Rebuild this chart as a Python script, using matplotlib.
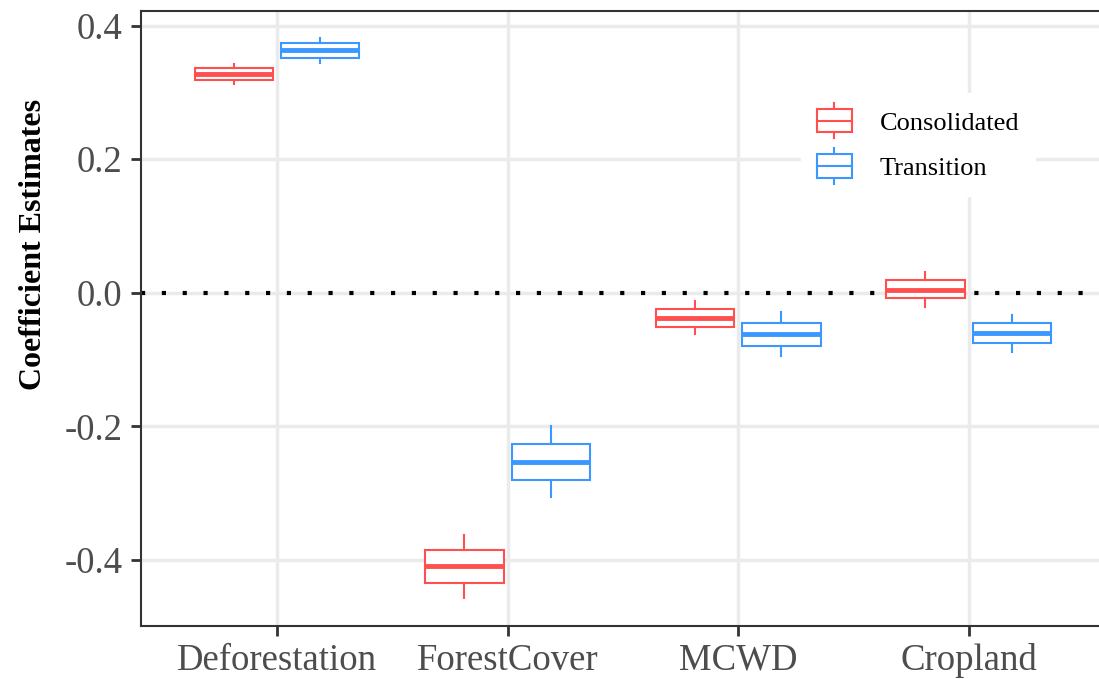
import matplotlib
matplotlib.use("Agg")
import matplotlib.pyplot as plt
from matplotlib.legend_handler import HandlerBase
from matplotlib.lines import Line2D
from matplotlib.patches import Rectangle

plt.rcParams['font.family'] = ['Liberation Serif', 'DejaVu Serif']

categories = ["Deforestation", "ForestCover", "MCWD", "Cropland"]
groups = ["Consolidated", "Transition"]
colors = {"Consolidated": "#FF4F4F", "Transition": "#3A98FF"}

# (whisker low, q1, median, q3, whisker high)
consolidated = [
    (0.313, 0.318, 0.328, 0.337, 0.343),
    (-0.457, -0.434, -0.409, -0.385, -0.362),
    (-0.062, -0.051, -0.038, -0.024, -0.012),
    (-0.022, -0.008, 0.004, 0.019, 0.031),
]
transition = [
    (0.344, 0.352, 0.363, 0.374, 0.381),
    (-0.306, -0.280, -0.253, -0.226, -0.199),
    (-0.095, -0.079, -0.061, -0.045, -0.029),
    (-0.089, -0.075, -0.060, -0.045, -0.033),
]
yticks = [0.4, 0.2, 0.0, -0.2, -0.4]
ytick_labels = ["0.4", "0.2", "0.0", "-0.2", "-0.4"]

W, H = 1099, 679
fig = plt.figure(figsize=(W / 100, H / 100), dpi=100)
ax = fig.add_axes([141 / W, (H - 626) / H, (1107 - 141) / W, (626 - 11) / H])

offset = 0.1875
bw = 0.34
grid_c = "#EBEBEB"
for y in yticks:
    ax.axhline(y, color=grid_c, lw=2.5, zorder=0)
for i in range(len(categories)):
    ax.axvline(i + 1, color=grid_c, lw=2.5, zorder=0)

ax.axhline(0, color="black", lw=3, linestyle=(0, (1, 4)), dash_capstyle="butt", zorder=1)

for data, g, sgn in [(consolidated, "Consolidated", -1), (transition, "Transition", 1)]:
    stats = [dict(whislo=d[0], q1=d[1], med=d[2], q3=d[3], whishi=d[4], fliers=[]) for d in data]
    pos = [i + 1 + sgn * offset for i in range(len(data))]
    c = colors[g]
    ax.bxp(stats, positions=pos, widths=bw, showcaps=False, showfliers=False,
           patch_artist=True,
           boxprops=dict(facecolor="white", edgecolor=c, linewidth=1.5),
           whiskerprops=dict(color=c, linewidth=1.5),
           medianprops=dict(color=c, linewidth=3.5, solid_capstyle="butt"),
           manage_ticks=False, zorder=3)

ax.set_xlim(0.41, 4.6)
ax.set_ylim(-0.499, 0.422)
ax.set_xticks(range(1, len(categories) + 1))
ax.set_xticklabels(categories)
ax.set_yticks(yticks)
ax.set_yticklabels(ytick_labels)
ax.tick_params(axis="both", labelsize=26.5, colors="#333333", length=7.5, width=2,
               labelcolor="#4D4D4D", pad=6)
ax.tick_params(axis="x", pad=5)
for s in ax.spines.values():
    s.set_color("#333333")
    s.set_linewidth(1.5)
ax.set_ylabel("Coefficient Estimates", fontsize=23, fontweight="bold")
ax.yaxis.set_label_coords(-(141 - 48) / (1107 - 141), (626 - 244) / (626 - 11))


class BoxHandler(HandlerBase):
    def create_artists(self, legend, orig_handle, xdescent, ydescent, width, height, fontsize, trans):
        c = orig_handle.get_color()
        cx = -xdescent + width / 2
        bw_ = width
        top = -ydescent + height * 1.0
        bot = -ydescent + height * 0.0
        rect = Rectangle((cx - bw_ / 2, bot), bw_, top - bot, facecolor="white",
                         edgecolor=c, linewidth=1.5, transform=trans)
        mid = (top + bot) / 2
        med = Line2D([cx - bw_ / 2, cx + bw_ / 2], [mid, mid], color=c, lw=1.5, transform=trans)
        w1 = Line2D([cx, cx], [top, top + height * 0.25], color=c, lw=1.5, transform=trans)
        w2 = Line2D([cx, cx], [bot, bot - height * 0.25], color=c, lw=1.5, transform=trans)
        return [w1, w2, rect, med]


handles = [Line2D([], [], color=colors[g]) for g in groups]
leg = ax.legend(handles, groups, handler_map={Line2D: BoxHandler()},
                loc="center", bbox_to_anchor=(918 / W, 1 - 144.5 / H),
                bbox_transform=fig.transFigure, fontsize=19, frameon=True,
                handlelength=1.35, handleheight=1.0, labelspacing=0.75, handletextpad=1.05,
                borderpad=0.6)
leg.get_frame().set_edgecolor("white")
leg.get_frame().set_facecolor("white")
leg.get_frame().set_alpha(1)
leg.get_frame().set_boxstyle("square", pad=0)

fig.savefig("out.png", dpi=100)
